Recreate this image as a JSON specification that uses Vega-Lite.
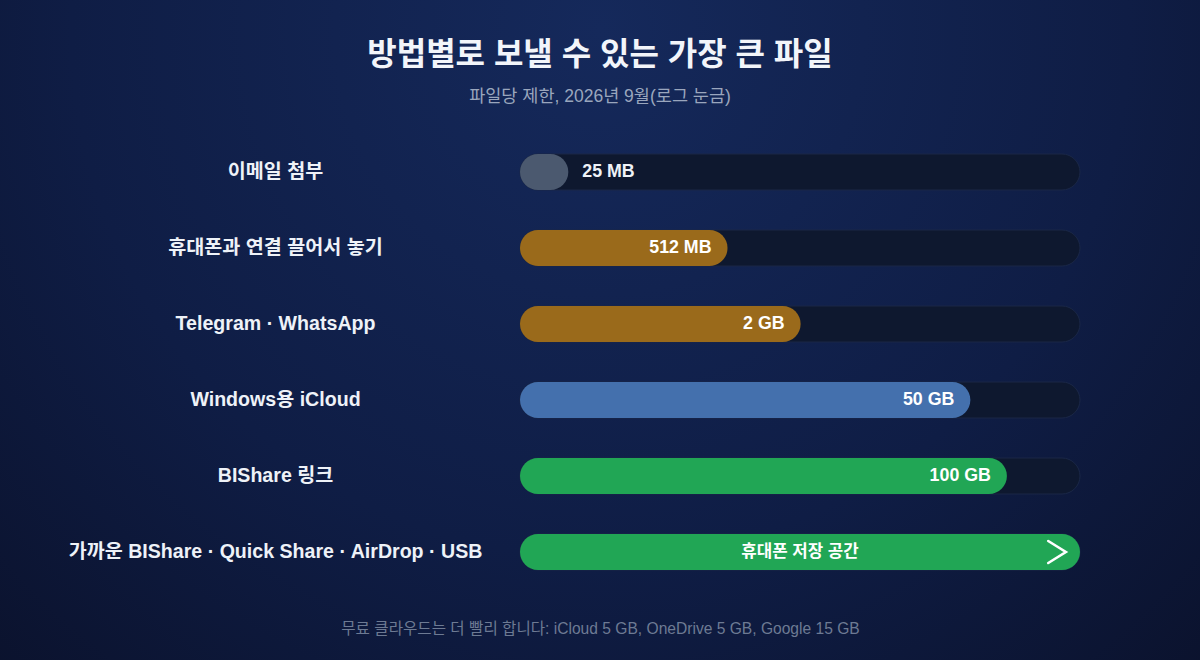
{
  "$schema": "https://vega.github.io/schema/vega-lite/v6.json",
  "width": 1200,
  "height": 660,
  "autosize": {"type": "none"},
  "padding": 0,
  "background": "#0b132e",
  "config": {
    "view": {
      "stroke": null,
      "fill": {
        "gradient": "radial",
        "x1": 0.5, "y1": 0.25, "x2": 0.5, "y2": 0.25,
        "r1": 0, "r2": 0.8,
        "stops": [
          {"offset": 0, "color": "#15295b"},
          {"offset": 0.55, "color": "#0f1d45"},
          {"offset": 1, "color": "#0a1028"}
        ]
      }
    },
    "font": "Liberation Sans, Noto Sans CJK KR, sans-serif"
  },
  "title": {
    "text": "방법별로 보낼 수 있는 가장 큰 파일",
    "subtitle": "파일당 제한, 2026년 9월(로그 눈금)",
    "anchor": "middle",
    "frame": "group",
    "offset": -106,
    "font": "Liberation Sans, Noto Sans CJK KR, sans-serif",
    "subtitleFont": "Liberation Sans, Noto Sans CJK KR, sans-serif",
    "fontSize": 32,
    "fontWeight": "bold",
    "color": "#f2f5fa",
    "subtitleFontSize": 17.5,
    "subtitleColor": "#9aa6bd",
    "subtitlePadding": 16
  },
  "data": {
    "values": [
      {"method": "이메일 첨부", "value": 25, "lo": 10, "hi": 409600, "label": "25 MB", "kind": "email"},
      {"method": "휴대폰과 연결 끌어서 놓기", "value": 512, "lo": 10, "hi": 409600, "label": "512 MB", "kind": "cable"},
      {"method": "Telegram · WhatsApp", "value": 2048, "lo": 10, "hi": 409600, "label": "2 GB", "kind": "messenger"},
      {"method": "Windows용 iCloud", "value": 51200, "lo": 10, "hi": 409600, "label": "50 GB", "kind": "cloud"},
      {"method": "BIShare 링크", "value": 102400, "lo": 10, "hi": 409600, "label": "100 GB", "kind": "link"},
      {"method": "가까운 BIShare · Quick Share · AirDrop · USB", "value": 409600, "lo": 10, "hi": 409600, "label": "휴대폰 저장 공간", "kind": "nearby"}
    ]
  },
  "encoding": {
    "y": {
      "field": "method",
      "type": "nominal",
      "sort": null,
      "scale": {"range": [134, 590], "paddingInner": 0, "paddingOuter": 0},
      "axis": {
        "title": null,
        "orient": "left",
        "offset": -275,
        "ticks": false,
        "domain": false,
        "grid": false,
        "labelAlign": "center",
        "labelBaseline": "middle",
        "labelPadding": 0,
        "labelLimit": 700,
        "labelFontSize": 19.6,
        "labelFontWeight": "bold",
        "labelColor": "#eef2f8",
        "labelFont": "Liberation Sans, Noto Sans CJK KR, sans-serif"
      }
    }
  },
  "layer": [
    {
      "mark": {"type": "bar", "size": 36, "cornerRadius": 18, "fill": "#0e182f", "stroke": "#1a2747", "strokeWidth": 1},
      "encoding": {
        "x": {
          "field": "lo",
          "type": "quantitative",
          "scale": {"type": "log", "domain": [10, 409600], "range": [520, 1080], "nice": false},
          "axis": {
            "orient": "bottom",
            "labels": false,
            "ticks": false,
            "domain": false,
            "grid": false,
            "title": "무료 클라우드는 더 빨리 합니다: iCloud 5 GB, OneDrive 5 GB, Google 15 GB",
            "titleX": 600,
            "titleY": -32,
            "titleAlign": "center",
            "titleBaseline": "middle",
            "titleFontSize": 15.6,
            "titleFontWeight": "normal",
            "titleColor": "#6d7a93",
            "titleFont": "Liberation Sans, Noto Sans CJK KR, sans-serif"
          }
        },
        "x2": {"field": "hi"}
      }
    },
    {
      "mark": {"type": "bar", "size": 36, "cornerRadius": 18},
      "encoding": {
        "x": {"field": "lo", "type": "quantitative"},
        "x2": {"field": "value"},
        "color": {
          "field": "kind",
          "type": "nominal",
          "legend": null,
          "scale": {
            "domain": ["email", "cable", "messenger", "cloud", "link", "nearby"],
            "range": ["#4b596f", "#9a6a1b", "#9a6a1b", "#4470ad", "#21a655", "#21a655"]
          }
        }
      }
    },
    {
      "transform": [{"filter": "datum.value >= 100 && datum.value < 409600"}],
      "mark": {"type": "text", "align": "right", "baseline": "middle", "dx": -16, "fontSize": 17.8, "fontWeight": "bold", "color": "#ffffff"},
      "encoding": {
        "x": {"field": "value", "type": "quantitative"},
        "text": {"field": "label"}
      }
    },
    {
      "transform": [{"filter": "datum.value < 100"}],
      "mark": {"type": "text", "align": "left", "baseline": "middle", "dx": 14, "fontSize": 17.8, "fontWeight": "bold", "color": "#eef2f8"},
      "encoding": {
        "x": {"field": "value", "type": "quantitative"},
        "text": {"field": "label"}
      }
    },
    {
      "transform": [{"filter": "datum.value >= 409600"}],
      "mark": {"type": "text", "align": "center", "baseline": "middle", "fontSize": 16.8, "fontWeight": "bold", "color": "#ffffff"},
      "encoding": {
        "x": {"datum": 2024, "type": "quantitative"},
        "text": {"field": "label"}
      }
    },
    {
      "transform": [{"filter": "datum.value >= 409600"}],
      "mark": {"type": "point", "shape": "M-0.8,-1L0.8,0L-0.8,1", "size": 484, "filled": false, "stroke": "#ffffff", "strokeWidth": 2.6, "strokeCap": "round", "opacity": 1},
      "encoding": {
        "x": {"datum": 265000, "type": "quantitative"}
      }
    }
  ]
}
